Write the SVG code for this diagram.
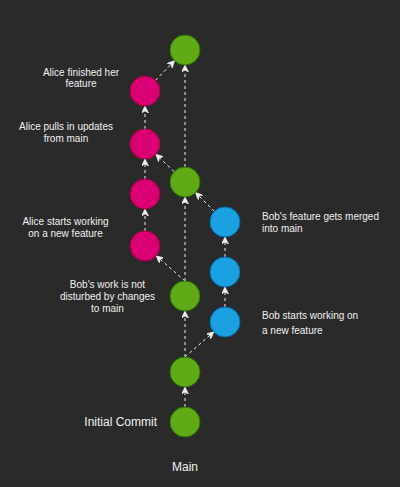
<svg xmlns="http://www.w3.org/2000/svg" width="400" height="487" viewBox="0 0 400 487">
<style>
.g{fill:#60a917;stroke:#2d7600;stroke-width:1}
.p{fill:#d80073;stroke:#a50040;stroke-width:1}
.b{fill:#1ba1e2;stroke:#006eaf;stroke-width:1}
.e{fill:none;stroke:#f0f0f0;stroke-width:1;stroke-dasharray:3 3;marker-end:url(#arr)}
.t{font-family:"Liberation Sans",Arial,sans-serif;font-size:10px;fill:#f0f0f0}
.m{text-anchor:middle}
.l{font-family:"Liberation Sans",Arial,sans-serif;font-size:12px;fill:#f0f0f0}
</style>
<defs>
<marker id="arr" viewBox="0 0 10 10" refX="10" refY="5" markerWidth="7" markerHeight="7" orient="auto" markerUnits="userSpaceOnUse">
<path d="M0,0 L10,5 L0,10 L3,5 Z" fill="#f0f0f0" stroke="#f0f0f0" stroke-width="1"/>
</marker>
</defs>
<rect width="400" height="487" fill="#2a2a2a"/>
<g id="connectors">
<line class="e" x1="185" y1="407" x2="185" y2="387"/>
<line class="e" x1="185" y1="357" x2="185" y2="311"/>
<line class="e" x1="185" y1="357" x2="213.7" y2="331.9"/>
<line class="e" x1="185" y1="281" x2="185" y2="197"/>
<line class="e" x1="185" y1="281" x2="156.3" y2="255.9"/>
<line class="e" x1="225" y1="307" x2="225" y2="287"/>
<line class="e" x1="225" y1="257" x2="225" y2="237"/>
<line class="e" x1="214.4" y1="211.4" x2="195.6" y2="192.6"/>
<line class="e" x1="174.1" y1="171.7" x2="155.9" y2="154.3"/>
<line class="e" x1="185" y1="167" x2="185" y2="65"/>
<line class="e" x1="145" y1="231" x2="145" y2="209"/>
<line class="e" x1="145" y1="179" x2="145" y2="159"/>
<line class="e" x1="145" y1="129" x2="145" y2="106"/>
<line class="e" x1="155.5" y1="80.3" x2="174.5" y2="60.7"/>
</g>
<g id="m1"><circle class="g" cx="185" cy="422" r="15"/></g>
<g id="m2"><circle class="g" cx="185" cy="372" r="15"/></g>
<g id="m3"><circle class="g" cx="185" cy="296" r="15"/></g>
<g id="m4"><circle class="g" cx="185" cy="182" r="15"/></g>
<g id="m5"><circle class="g" cx="185" cy="50" r="15"/></g>
<g id="a1"><circle class="p" cx="145" cy="246" r="15"/></g>
<g id="a2"><circle class="p" cx="145" cy="194" r="15"/></g>
<g id="a3"><circle class="p" cx="145" cy="144" r="15"/></g>
<g id="a4"><circle class="p" cx="145" cy="91" r="15"/></g>
<g id="b1"><circle class="b" cx="225" cy="322" r="15"/></g>
<g id="b2"><circle class="b" cx="225" cy="272" r="15"/></g>
<g id="b3"><circle class="b" cx="225" cy="222" r="15"/></g>
<g id="lbl-alice-finished"><text class="t m" x="81" y="75.5">Alice finished her</text><text class="t m" x="81" y="87">feature</text></g>
<g id="lbl-alice-pulls"><text class="t m" x="66" y="130">Alice pulls in updates</text><text class="t m" x="66" y="141.5">from main</text></g>
<g id="lbl-alice-starts"><text class="t m" x="65.5" y="225">Alice starts working</text><text class="t m" x="65.5" y="236.5">on a new feature</text></g>
<g id="lbl-bob-work"><text class="t m" x="107.5" y="287.5">Bob's work is not</text><text class="t m" x="107.5" y="299.5">disturbed by changes</text><text class="t m" x="107.5" y="311.5">to main</text></g>
<g id="lbl-bob-merged"><text class="t" x="262" y="219.5">Bob's feature gets merged</text><text class="t" x="262" y="231.5">into main</text></g>
<g id="lbl-bob-starts"><text class="t" x="262" y="319">Bob starts working on</text><text class="t" x="262" y="333.5">a new feature</text></g>
<g id="lbl-initial"><text class="l" x="157" y="426" text-anchor="end">Initial Commit</text></g>
<g id="lbl-main"><text class="l m" x="185" y="471">Main</text></g>
</svg>
